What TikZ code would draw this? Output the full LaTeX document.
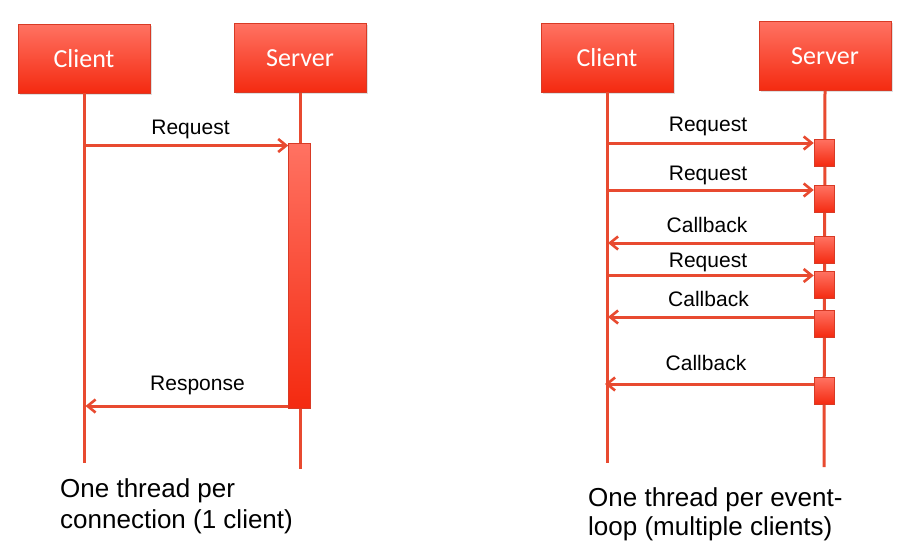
\documentclass[tikz,border=0pt]{standalone}
\usepackage{fontspec}
\setmainfont{Liberation Sans}
\newfontfamily\boxfont{Carlito}
\usetikzlibrary{arrows.meta,shadows}
\definecolor{lred}{HTML}{E84A30}
\definecolor{boxtop}{HTML}{FF7262}
\definecolor{boxbot}{HTML}{F42A10}
\definecolor{boxedge}{HTML}{D83A25}
\tikzset{
  actor/.style={minimum width=132pt, minimum height=69pt, inner sep=0pt,
    top color=boxtop, bottom color=boxbot, draw=boxedge, line width=0.5pt,
    font=\boxfont\fontsize{26}{30}\selectfont, text=white,
    drop shadow={opacity=0.25, shadow xshift=1.5pt, shadow yshift=-1.5pt}},
  life/.style={draw=lred, line width=3pt},
  msg/.style={draw=lred, line width=3pt, -{Straight Barb[length=8pt,width=13pt,line width=2.6pt]}},
  lbl/.style={font=\fontsize{21}{24}\selectfont, text=black, anchor=base, inner sep=0pt},
  act/.style={minimum width=20pt, minimum height=27pt, inner sep=0pt,
    top color=boxtop, bottom color=boxbot, draw=boxedge, line width=0.5pt},
  captext/.style={font=\fontsize{26}{31}\selectfont, text=black, anchor=base west, inner sep=0pt},
}
\begin{document}
\begin{tikzpicture}[x=1pt,y=-1pt]
\useasboundingbox[fill=white] (0,0) rectangle (916,541);

% ---------- left diagram ----------
\node[actor] (c1) at (84,58.5) {Client};
\node[actor] (s1) at (300,58) {Server};
\coordinate (c1end) at (84,463);
\coordinate (s1end) at (300,469);
\draw[life] (c1.south) -- (c1end);
\draw[life] (s1.south) -- (s1end);
\node[act, minimum width=22pt, minimum height=265pt] (bar) at (299.5,275.5) {};
\coordinate (q1) at (84,145.5);
\coordinate (p1) at (84,406);
\draw[msg] (q1) -- (q1 -| bar.west);
\draw[msg] (p1 -| bar.west) -- ([xshift=1.5pt]p1);
\node[lbl] (lq1) at (190.5,134) {Request};
\node[lbl] (lp1) at (197.5,390.5) {Response};
\node[captext] (cap1a) at (60,497) {One thread per};
\node[captext] (cap1b) at (60,528) {connection (1 client)};

% ---------- right diagram ----------
\node[actor] (c2) at (607,57.5) {Client};
\node[actor] (s2) at (825,56) {Server};
\coordinate (c2end) at (607,463);
\coordinate (s2end) at (824,467);
\draw[life] (c2.south) -- (c2end);
\draw[life] (s2.south) -- (s2end);
\node[act] (b1) at (824,152.5) {};
\node[act] (b2) at (824,199) {};
\node[act] (b3) at (824,250) {};
\node[act] (b4) at (824,285) {};
\node[act] (b5) at (824,323.5) {};
\node[act] (b6) at (824,391) {};
\coordinate (m1) at (607,143);
\coordinate (m2) at (607,190);
\coordinate (m3) at (608,243);
\coordinate (m4) at (607,275.5);
\coordinate (m5) at (608,317);
\coordinate (m6) at (605,384);
\draw[msg] (m1) -- (m1 -| b1.west);
\draw[msg] (m2) -- (m2 -| b2.west);
\draw[msg] (m3 -| b3.west) -- (m3);
\draw[msg] (m4) -- (m4 -| b4.west);
\draw[msg] (m5 -| b5.west) -- (m5);
\draw[msg] (m6 -| b6.west) -- (m6);
\node[lbl] (l1) at (708,131.5) {Request};
\node[lbl] (l2) at (708,180) {Request};
\node[lbl] (l3) at (707,232) {Callback};
\node[lbl] (l4) at (708,267.5) {Request};
\node[lbl] (l5) at (708.5,306) {Callback};
\node[lbl] (l6) at (706,370) {Callback};
\node[captext] (cap2a) at (588,506) {One thread per event-};
\node[captext] (cap2b) at (588,535) {loop (multiple clients)};
\end{tikzpicture}
\end{document}
